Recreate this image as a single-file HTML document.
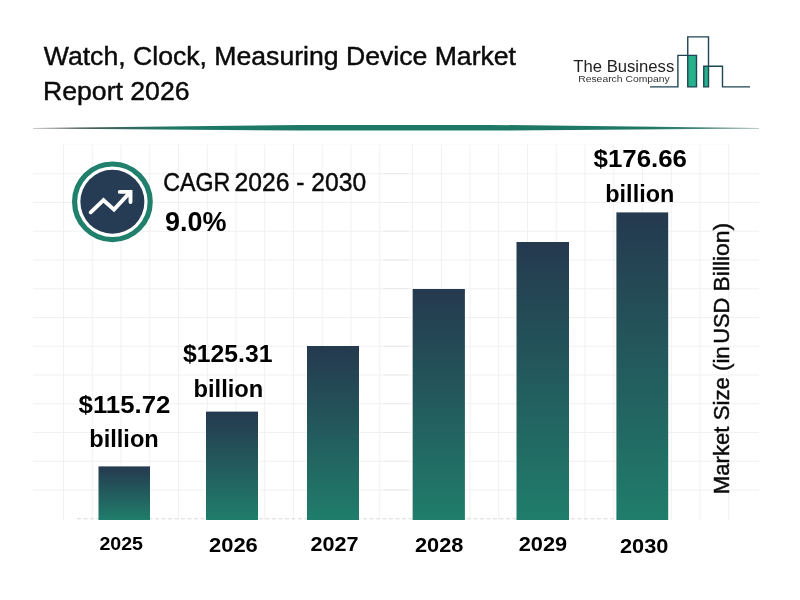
<!DOCTYPE html>
<html lang="en">
<head>
<meta charset="utf-8">
<title>Watch, Clock, Measuring Device Market Report 2026</title>
<style>
html,body{margin:0;padding:0;background:#fff;}
body{width:800px;height:600px;overflow:hidden;}
svg{display:block;}
text{font-family:"Liberation Sans",sans-serif;fill:#000;}
.b{font-weight:bold;}
.r{fill:#0b0b0b;stroke:#0b0b0b;stroke-width:0.45;}
</style>
</head>
<body>
<svg width="800" height="600" viewBox="0 0 800 600">
<defs>
<linearGradient id="bar" x1="0" y1="0" x2="0" y2="1">
<stop offset="0" stop-color="#25394f"/>
<stop offset="1" stop-color="#207d6b"/>
</linearGradient>
<linearGradient id="div" x1="0" y1="0" x2="1" y2="0">
<stop offset="0" stop-color="#999"/>
<stop offset="0.06" stop-color="#4a5a58"/>
<stop offset="0.2" stop-color="#1e7866"/>
<stop offset="0.85" stop-color="#1e7866"/>
<stop offset="1" stop-color="#7a9a94"/>
</linearGradient>
</defs>
<rect width="800" height="600" fill="#fff"/>

<!-- grid -->
<g id="grid" stroke="#f1f1f1" stroke-width="1" fill="none">
<path d="M63.5 144V520M92.25 144V520M121 144V520M149.75 144V520M178.5 144V520M207.25 144V520M236 144V520M264.75 144V520M293.5 144V520M322.25 144V520M351 144V520M379.75 144V520"/>
<path d="M412.5 144V520M441.25 144V520M470 144V520M498.75 144V520M527.5 144V520M556.25 144V520M585 144V520M613.75 144V520M642.5 144V520M671.25 144V520M700 144V520M728.75 144V520"/>
<path d="M33 173.75H759M33 202.5H759M33 231.25H759M33 260H759M33 288.75H759M33 317.5H759M33 346.25H759M33 375H759M33 403.75H759M33 432.5H759M33 461.25H759M33 490H759"/>
<path d="M383.5 173.75H408.5M383.5 202.5H408.5M383.5 231.25H408.5M383.5 260H408.5M383.5 288.75H408.5M383.5 317.5H408.5M383.5 346.25H408.5M383.5 375H408.5M383.5 403.75H408.5M383.5 432.5H408.5M383.5 461.25H408.5M383.5 490H408.5" stroke="#e9e9e9"/>
</g>
<path d="M63.5 144.3H729" stroke="#fafafa" stroke-width="1" fill="none"/>
<path d="M77 518.8H668" stroke="#d9d9d9" stroke-width="1" stroke-dasharray="4 2.5" fill="none"/>

<!-- divider -->
<path d="M33 128L300 124.9H490L759 128V128.4L490 130.6H300L33 128.5Z" fill="url(#div)"/>

<!-- title -->
<text class="r" x="43.8" y="65" font-size="26" textLength="472.2" lengthAdjust="spacingAndGlyphs">Watch, Clock, Measuring Device Market</text>
<text class="r" x="43" y="100.2" font-size="26" textLength="146.5" lengthAdjust="spacingAndGlyphs">Report 2026</text>

<!-- logo -->
<g id="logo">
<text x="573.3" y="72" font-size="17.2" textLength="101" lengthAdjust="spacingAndGlyphs" style="fill:#222">The Business</text>
<text x="578.2" y="82.4" font-size="9.2" textLength="91.6" lengthAdjust="spacingAndGlyphs" style="fill:#333">Research Company</text>
<rect x="687.75" y="55.4" width="8.75" height="31.5" fill="#27b08c"/>
<rect x="703.75" y="66.25" width="4.75" height="20.65" fill="#27b08c"/>
<path d="M650 86.9H677.9V55.4H696.5V86.9H687.75V36.9H708.5V86.9H703.75V66.25H722.5V86.9H750" fill="none" stroke="#1d4552" stroke-width="1.4" stroke-linejoin="miter"/>
</g>

<!-- CAGR icon -->
<g id="cagr">
<circle cx="112.4" cy="201.8" r="37.8" fill="#fff" stroke="#20806c" stroke-width="5.2"/>
<circle cx="112.4" cy="201.8" r="32" fill="#263c54"/>
<path d="M90.7 212.3L103.5 200.2L114 209.6L130.4 191.9M119.8 191.9H130.5V202" fill="none" stroke="#fff" stroke-width="3.9" stroke-linecap="round" stroke-linejoin="miter"/>
<text class="r" y="191.3" font-size="25"><tspan x="163.2" textLength="67" lengthAdjust="spacingAndGlyphs">CAGR</tspan> <tspan x="234.6" textLength="131.6" lengthAdjust="spacingAndGlyphs">2026 - 2030</tspan></text>
<text class="b" x="165" y="231" font-size="27.2" textLength="61.5" lengthAdjust="spacingAndGlyphs">9.0%</text>
</g>

<!-- bars -->
<g id="bars" fill="url(#bar)">
<rect x="98.5" y="466.4" width="51.5" height="53.6"/>
<rect x="206" y="411.6" width="52" height="108.4"/>
<rect x="307" y="346" width="52" height="174"/>
<rect x="412.7" y="289" width="52.2" height="231"/>
<rect x="516.5" y="242" width="52.5" height="278"/>
<rect x="616.4" y="212.4" width="51.8" height="307.6"/>
</g>

<!-- value labels -->
<g class="b" font-size="23.5">
<text x="78.6" y="413.1" textLength="91.8" lengthAdjust="spacingAndGlyphs">$115.72</text>
<text x="89.2" y="446.9" textLength="69.6" lengthAdjust="spacingAndGlyphs">billion</text>
<text x="183" y="362.4" textLength="89.4" lengthAdjust="spacingAndGlyphs">$125.31</text>
<text x="193.5" y="396.6" textLength="69.8" lengthAdjust="spacingAndGlyphs">billion</text>
<text x="593.5" y="167.2" textLength="93.5" lengthAdjust="spacingAndGlyphs">$176.66</text>
<text x="605.3" y="201.6" textLength="69" lengthAdjust="spacingAndGlyphs">billion</text>
</g>

<!-- x labels -->
<g class="b">
<text x="99.4" y="549.8" font-size="18.2" textLength="43.6" lengthAdjust="spacingAndGlyphs">2025</text>
<text x="209" y="551.8" font-size="20" textLength="48.8" lengthAdjust="spacingAndGlyphs">2026</text>
<text x="310.4" y="551.4" font-size="20" textLength="48" lengthAdjust="spacingAndGlyphs">2027</text>
<text x="415" y="551.5" font-size="20" textLength="48.4" lengthAdjust="spacingAndGlyphs">2028</text>
<text x="518.7" y="551.3" font-size="20" textLength="48.4" lengthAdjust="spacingAndGlyphs">2029</text>
<text x="620" y="552.6" font-size="20" textLength="48.4" lengthAdjust="spacingAndGlyphs">2030</text>
</g>

<!-- y axis label -->
<text class="r" transform="translate(728.6 494.3) rotate(-90)" font-size="22.5"><tspan x="0" textLength="148" lengthAdjust="spacingAndGlyphs">Market Size (in</tspan> <tspan x="150.5" textLength="46" lengthAdjust="spacingAndGlyphs">USD</tspan> <tspan x="202.9" textLength="68.5" lengthAdjust="spacingAndGlyphs">Billion)</tspan></text>
</svg>
</body>
</html>
